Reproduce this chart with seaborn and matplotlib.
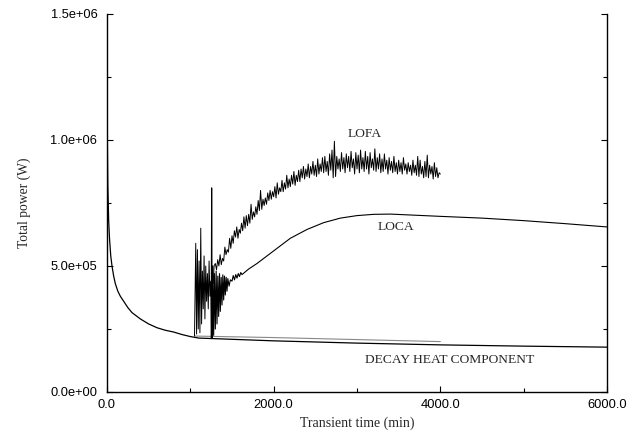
import numpy as np
import pandas as pd
import matplotlib
matplotlib.use("Agg")
import matplotlib.pyplot as plt
import seaborn as sns
from matplotlib.ticker import MultipleLocator, FixedLocator, FixedFormatter

# ---------------- data (power in kW, time in min) ----------------
# common decay curve (also the LOCA decay heat component, to 6000 min)
decay_t = [0, 2, 5, 10, 20, 30, 45, 60, 80, 100, 130, 160, 200, 250, 300,
           400, 500, 600, 700, 800, 900, 1000, 1100, 2000, 3000, 4000, 5000, 6000]
decay_p = [1600, 1250, 980, 820, 680, 610, 540, 500, 460, 430, 400, 380, 360,
           335, 315, 290, 270, 255, 245, 238, 228, 220, 214, 203, 194, 187, 182, 178]

# LOFA decay heat component (to 4000 min)
lofa_decay_t = [1050, 2000, 3000, 4000]
lofa_decay_p = [222, 216, 208, 200]

# LOFA early oscillations
lofa_early_t = [1050, 1065, 1075, 1085, 1095, 1105, 1115, 1125, 1135, 1145,
                1155, 1165, 1175, 1185, 1195, 1205, 1215, 1225, 1235, 1245,
                1255, 1265, 1275, 1285]
lofa_early_p = [222, 590, 230, 565, 250, 520, 235, 650, 270, 480,
                330, 540, 290, 500, 360, 470, 330, 520, 380, 440,
                220, 470, 430, 500]

# LOFA main noisy part, 1300 -> 4000 min
lofa_main_p = [
    510, 485, 525, 500, 545, 505, 530,
    520, 575, 545, 565, 555, 610, 570,
    620, 590, 640, 615, 655, 610, 645,
    630, 670, 640, 695, 650, 700, 660,
    705, 670, 745, 685, 715, 695, 735,
    705, 760, 720, 800, 725, 765, 740,
    770, 745, 790, 760, 800, 765, 795,
    775, 815, 770, 830, 785, 810, 795,
    840, 795, 830, 805, 860, 810, 845,
    815, 860, 825, 875, 820, 860, 835,
    880, 835, 885, 850, 895, 845, 885,
    855, 905, 850, 895, 865, 915, 860,
    900, 855, 925, 865, 905, 875, 930,
    870, 935, 875, 915, 860, 945, 880,
    960, 850, 995, 855, 935, 885, 925,
    875, 950, 885, 930, 870, 945, 890,
    935, 875, 955, 890, 925, 865, 950,
    885, 940, 870, 960, 885, 930, 875,
    955, 885, 935, 865, 950, 890, 925,
    880, 965, 875, 930, 885, 945, 870,
    925, 875, 945, 885, 920, 865, 930,
    880, 915, 870, 935, 875, 910, 865,
    920, 875, 910, 865, 930, 880, 905,
    865, 910, 875, 900, 860, 920, 870,
    900, 860, 935, 855, 920, 865, 895,
    850, 915, 855, 940, 850, 900, 865,
    895, 845, 910, 855, 890, 850, 870,
    865]
lofa_main_t = np.linspace(1300, 4000, len(lofa_main_p))

# LOCA
loca_t = [1250, 1256, 1262, 1270, 1280, 1290, 1300, 1310, 1320, 1330, 1340,
          1350, 1360, 1370, 1380, 1390, 1400, 1410, 1420, 1430, 1440, 1450,
          1465, 1480, 1500, 1515, 1530, 1545, 1560, 1575, 1590, 1605, 1620,
          1700, 1800, 1900, 2000, 2200, 2400, 2600,
          2800, 3000, 3200, 3400, 3600, 3800, 4000, 4500, 5000, 5500, 6000]
loca_p = [212, 810, 215, 500, 225, 470, 250, 480, 270, 460, 300,
          470, 320, 455, 345, 465, 365, 460, 385, 455, 400, 450,
          420, 445, 440, 462, 445, 466, 452, 470, 458, 474, 466,
          488, 510, 535, 560, 610, 645, 672,
          690, 700, 705, 706, 703, 700, 697, 690, 680, 668, 655]

KW = 1e3

x_ticks = [0, 2000, 4000, 6000]
x_tick_labels = ["0.0", "2000.0", "4000.0", "6000.0"]
y_ticks = [0, 5e5, 1e6, 1.5e6]
y_tick_labels = ["0.0e+00", "5.0e+05", "1.0e+06", "1.5e+06"]

# ---------------- plot ----------------
sns.set_style("ticks")
plt.rcParams["font.family"] = ["Liberation Sans", "DejaVu Sans"]
serif = ["Liberation Serif", "DejaVu Serif"]

fig = plt.figure(figsize=(6.36, 4.34), dpi=100)
ax = fig.add_axes([107 / 636, 42 / 434, 500 / 636, 378 / 434])

lofa_t = list(lofa_early_t) + list(lofa_main_t)
lofa_p = list(lofa_early_p) + list(lofa_main_p)

df_decay = pd.DataFrame({"t": decay_t, "p": np.array(decay_p) * KW})
df_lofa_decay = pd.DataFrame({"t": lofa_decay_t, "p": np.array(lofa_decay_p) * KW})
df_lofa = pd.DataFrame({"t": lofa_t, "p": np.array(lofa_p) * KW})
df_loca = pd.DataFrame({"t": loca_t, "p": np.array(loca_p) * KW})

sns.lineplot(data=df_lofa_decay, x="t", y="p", ax=ax, color="#888888",
             lw=0.8, estimator=None, sort=False)
sns.lineplot(data=df_decay, x="t", y="p", ax=ax, color="black",
             lw=0.9, estimator=None, sort=False)
sns.lineplot(data=df_loca, x="t", y="p", ax=ax, color="black",
             lw=0.8, estimator=None, sort=False)
sns.lineplot(data=df_lofa, x="t", y="p", ax=ax, color="black",
             lw=0.7, estimator=None, sort=False)

ax.set_xlim(0, 6000)
ax.set_ylim(0, 1.5e6)

ax.xaxis.set_major_locator(FixedLocator(x_ticks))
ax.xaxis.set_major_formatter(FixedFormatter(x_tick_labels))
ax.xaxis.set_minor_locator(MultipleLocator(1000))
ax.yaxis.set_major_locator(FixedLocator(y_ticks))
ax.yaxis.set_major_formatter(FixedFormatter(y_tick_labels))
ax.yaxis.set_minor_locator(MultipleLocator(2.5e5))

ax.tick_params(which="both", direction="in", left=True, right=True,
               bottom=True, top=False, labelsize=9.3, colors="black")
ax.tick_params(which="major", length=4, width=0.8)
ax.tick_params(which="minor", length=3, width=0.8)
ax.tick_params(axis="y", pad=7)
ax.tick_params(axis="x", pad=5)

for s in ["left", "right", "bottom"]:
    ax.spines[s].set_visible(True)
    ax.spines[s].set_linewidth(1.0)
    ax.spines[s].set_color("black")
ax.spines["top"].set_visible(False)

ax.set_xlabel("Transient time (min)", family=serif, fontsize=10, labelpad=4)
ax.set_ylabel("Total power (W)", family=serif, fontsize=9.8, labelpad=14)

ax.text(3090, 1.025e6, "LOFA", family=serif, fontsize=9.7, ha="center", va="center")
ax.text(3470, 6.55e5, "LOCA", family=serif, fontsize=9.7, ha="center", va="center")
ax.text(4116, 1.27e5, "DECAY HEAT COMPONENT", family=serif, fontsize=9.7,
        ha="center", va="center")

fig.savefig("out.png", dpi=100, facecolor="white")
